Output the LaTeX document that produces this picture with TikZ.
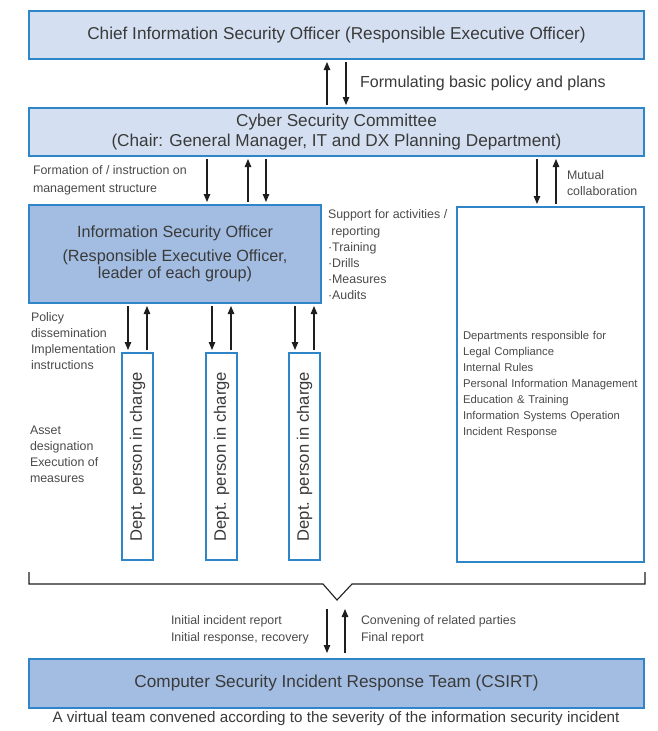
\documentclass[tikz,border=0pt]{standalone}
\usepackage{fontspec}
\setmainfont{Liberation Sans}
\usetikzlibrary{arrows.meta}
\definecolor{bordblue}{HTML}{2E86C8}
\definecolor{lightfill}{HTML}{D4E0F1}
\definecolor{darkfill}{HTML}{A3BDE2}
\definecolor{txt}{HTML}{3A3A3A}
\definecolor{ltxt}{HTML}{4A4A4A}
\definecolor{arrc}{HTML}{1E1E1E}
\begin{document}
\begin{tikzpicture}[x=1pt,y=-1pt,
  box/.style={draw=bordblue, line width=1.5pt, inner sep=0pt, outer sep=0pt, text=txt, align=center},
  bigtext/.style={font=\fontsize{17.2}{19}\selectfont},
  conn/.style={draw=arrc, line width=1.1pt, -{Triangle[length=8pt,width=6.5pt]}, shorten >=3pt, shorten <=3pt},
  lbl/.style={inner sep=0pt, outer sep=0pt, anchor=north west, text=ltxt, align=left, font=\fontsize{12.4}{16.2}\selectfont},
  bracket/.style={draw=arrc, line width=1.1pt, line join=miter}
]
\useasboundingbox (0,0) rectangle (658,731);

% main boxes
\node[box, bigtext, fill=lightfill, minimum width=615, minimum height=48, anchor=north west] (ciso) at (29,11)
  {Chief Information Security Officer (Responsible Executive Officer)};
\node[box, fill=lightfill, minimum width=615, minimum height=48, anchor=north west, font=\fontsize{17.2}{19.5}\selectfont] (comm) at (29,108)
  {Cyber Security Committee\\(Chair: General Manager, IT and DX Planning Department)};
\node[box, fill=darkfill, minimum width=292, minimum height=98, anchor=north west, font=\fontsize{16.2}{17}\selectfont] (iso) at (29,205)
  {Information Security Officer\\[7pt](Responsible Executive Officer,\\leader of each group)};
\node[box, fill=white, minimum width=187, minimum height=355, text width=175pt, anchor=north west, align=left, text=ltxt, font=\fontsize{11.3}{16}\selectfont] (depts) at (457,207)
  {Departments responsible for\\Legal Compliance\\Internal Rules\\Personal Information Management\\Education \& Training\\Information Systems Operation\\Incident Response};

% department person boxes (rotated)
\node[box, fill=white, rotate=90, minimum width=207, minimum height=31, anchor=center, font=\fontsize{16.6}{18}\selectfont] (d1) at (137.5,456.5) {Dept. person in charge};
\node[box, fill=white, rotate=90, minimum width=207, minimum height=31, anchor=center, font=\fontsize{16.6}{18}\selectfont] (d2) at (221.5,456.5) {Dept. person in charge};
\node[box, fill=white, rotate=90, minimum width=207, minimum height=31, anchor=center, font=\fontsize{16.6}{18}\selectfont] (d3) at (304.5,456.5) {Dept. person in charge};

\node[box, bigtext, fill=darkfill, minimum width=615, minimum height=49, anchor=north west] (csirt) at (29,659)
  {Computer Security Incident Response Team (CSIRT)};

\node[inner sep=0pt, text=txt, font=\fontsize{15.2}{17}\selectfont] (caption) at (336,719)
  {A virtual team convened according to the severity of the information security incident};

% connectors CISO <-> committee
\draw[conn] (327,0 |- comm.north) -- (327,0 |- ciso.south);
\draw[conn] (346,0 |- ciso.south) -- (346,0 |- comm.north);
\node[inner sep=0pt, anchor=west, text=txt, font=\fontsize{16}{18}\selectfont] (fbp) at (360,83) {Formulating basic policy and plans};

% committee <-> ISO
\draw[conn] (207,0 |- comm.south) -- (207,0 |- iso.north);
\draw[conn] (248,0 |- iso.north) -- (248,0 |- comm.south);
\draw[conn] (266,0 |- comm.south) -- (266,0 |- iso.north);
% committee <-> departments
\draw[conn] (537,0 |- comm.south) -- (537,0 |- depts.north);
\draw[conn] (556,0 |- depts.north) -- (556,0 |- comm.south);

% ISO <-> dept persons
\draw[conn] (128,0 |- iso.south) -- (128,0 |- d1.east);
\draw[conn] (147,0 |- d1.east) -- (147,0 |- iso.south);
\draw[conn] (212,0 |- iso.south) -- (212,0 |- d2.east);
\draw[conn] (231,0 |- d2.east) -- (231,0 |- iso.south);
\draw[conn] (295,0 |- iso.south) -- (295,0 |- d3.east);
\draw[conn] (314,0 |- d3.east) -- (314,0 |- iso.south);

% labels
\node[lbl, font=\fontsize{12.4}{17.5}\selectfont] (lform) at (33,166) {Formation of / instruction on\\management structure};
\node[lbl, font=\fontsize{12.4}{16}\selectfont] (lmut) at (567,171) {Mutual\\collaboration};
\node[lbl] (lsup) at (328,210) {Support for activities /\\\ reporting\\·Training\\·Drills\\·Measures\\·Audits};
\node[lbl, font=\fontsize{12.4}{16}\selectfont] (lpol) at (31,313) {Policy\\dissemination\\Implementation\\instructions};
\node[lbl, font=\fontsize{12.4}{16}\selectfont] (lasset) at (30,426) {Asset\\designation\\Execution of\\measures};

% bracket
\coordinate (apex) at (337,600);
\draw[bracket] (29,572) -- (29,584) -- (323,584) -- (apex) -- (352,584) -- (645,584) -- (645,572);

% bracket <-> CSIRT
\draw[conn, shorten <=9pt, shorten >=6pt] (327,0 |- apex) -- (327,0 |- csirt.north);
\draw[conn, shorten <=6pt, shorten >=9pt] (345,0 |- csirt.north) -- (345,0 |- apex);
\node[lbl, font=\fontsize{12.4}{17}\selectfont] (linit) at (171,616) {Initial incident report\\Initial response, recovery};
\node[lbl, font=\fontsize{12.4}{17}\selectfont] (lconv) at (361,616) {Convening of related parties\\Final report};
\end{tikzpicture}
\end{document}
